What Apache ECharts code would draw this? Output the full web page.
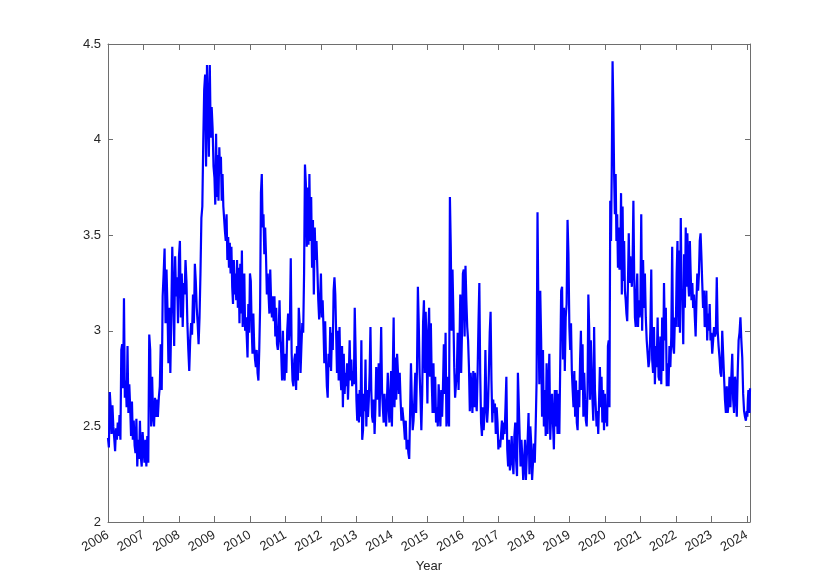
<!DOCTYPE html>
<html>
<head>
<meta charset="utf-8">
<script src="https://cdn.jsdelivr.net/npm/echarts@6/dist/echarts.min.js"></script>
<style>
html,body{margin:0;padding:0;background:#fff;}
#chart{width:830px;height:587px;}
</style>
</head>
<body>
<div id="chart"></div>
<script>
// Values (log scale level), one array per year
const v2006 = [2.44, 2.39, 2.68, 2.60, 2.46, 2.61, 2.50, 2.44, 2.37, 2.49, 2.43, 2.52, 2.45, 2.56, 2.43, 2.90, 2.93, 2.70, 3.17, 2.65, 2.74, 2.60, 2.92, 2.57, 2.72, 2.60, 2.45, 2.63, 2.43, 2.53, 2.40, 2.36, 2.54, 2.29, 2.43, 2.33, 2.53, 2.34, 2.29, 2.47];
const v2007 = [2.47, 2.31, 2.43, 2.29, 2.45, 2.31, 2.98, 2.90, 2.50, 2.76, 2.55, 2.50, 2.65, 2.55, 2.64, 2.55, 2.65, 2.71, 2.93, 2.69, 3.18, 3.30, 3.43, 3.04, 3.32, 3.12, 2.83, 3.12, 2.78, 3.09, 3.44, 3.18, 2.92, 3.39, 3.18, 3.28, 3.04];
const v2008 = [3.39, 3.47, 3.07, 3.30, 3.02, 3.25, 3.19, 3.37, 3.26, 3.04, 2.90, 2.79, 2.95, 3.04, 2.98, 3.19, 3.04, 3.35, 3.26, 3.12, 3.04, 2.93, 3.07, 3.30, 3.59, 3.65, 3.99, 4.26, 4.34, 3.86, 4.39, 4.17, 3.91, 4.39, 4.01, 4.17, 4.06, 3.86];
const v2009 = [3.80, 3.66, 4.03, 3.70, 3.92, 3.68, 3.96, 3.82, 3.91, 3.68, 3.82, 3.65, 3.66, 3.52, 3.47, 3.61, 3.37, 3.49, 3.33, 3.46, 3.30, 3.44, 3.23, 3.14, 3.37, 3.19, 3.30, 3.16, 3.37, 3.12, 3.33, 3.04, 3.35, 3.09, 3.42, 3.02, 3.14, 3.30, 3.00, 3.07, 2.97, 2.86, 3.14, 2.99];
const v2010 = [3.30, 3.26, 3.02, 2.88, 3.09, 2.92, 2.85, 2.81, 2.90, 2.78, 2.74, 2.90, 3.12, 3.72, 3.82, 3.54, 3.61, 3.40, 3.54, 3.39, 3.19, 3.30, 3.19, 3.09, 3.32, 3.16, 3.07, 3.18, 3.05, 3.18, 2.97, 3.12, 2.93, 2.90, 3.00, 3.16, 2.95, 2.88, 2.74, 3.00, 2.78, 2.74];
const v2011 = [2.88, 2.78, 3.00, 3.09, 2.95, 3.04, 3.38, 2.88, 2.74, 2.71, 2.85, 2.88, 2.69, 2.92, 2.74, 3.12, 3.04, 2.78, 2.92, 3.04, 2.99, 3.30, 3.87, 3.77, 3.44, 3.75, 3.45, 3.82, 3.47, 3.70, 3.33, 3.58, 3.19, 3.54, 3.37, 3.47, 3.32, 3.16, 3.06, 3.16];
const v2012 = [3.30, 3.07, 3.16, 3.02, 2.83, 3.05, 2.85, 2.71, 2.65, 2.88, 2.81, 3.02, 2.79, 2.99, 2.90, 3.21, 3.28, 3.19, 2.99, 2.78, 3.00, 2.74, 3.02, 2.78, 2.69, 2.92, 2.60, 2.88, 2.67, 2.78, 2.71, 2.83, 2.64, 2.78, 2.95, 2.74, 2.85, 2.71, 2.79, 2.72, 3.12, 2.90];
const v2013 = [2.64, 2.53, 2.67, 2.52, 2.69, 2.55, 2.95, 2.43, 2.48, 2.67, 2.58, 2.85, 2.50, 2.69, 2.55, 2.64, 2.78, 3.02, 2.69, 2.55, 2.52, 2.64, 2.46, 2.60, 2.81, 2.64, 2.69, 2.83, 2.55, 2.78, 3.02, 2.69, 2.60, 2.52, 2.67, 2.57, 2.50, 2.64, 2.78, 2.60, 2.52, 2.67, 2.79];
const v2014 = [2.50, 2.78, 3.07, 2.60, 2.86, 2.64, 2.88, 2.78, 2.67, 2.78, 2.64, 2.53, 2.60, 2.55, 2.50, 2.43, 2.53, 2.38, 2.43, 2.36, 2.33, 2.57, 2.83, 2.64, 2.48, 2.53, 2.65, 2.78, 2.57, 2.81, 3.23, 3.04, 2.78, 2.65, 2.48, 2.67, 3.04, 3.16, 2.78, 3.10, 2.92];
const v2015 = [2.62, 2.99, 3.12, 2.76, 3.04, 2.74, 2.57, 2.83, 2.57, 2.76, 2.52, 2.60, 2.50, 2.72, 2.60, 2.50, 2.69, 2.55, 2.71, 2.93, 2.67, 2.99, 2.50, 2.55, 2.76, 2.50, 3.70, 3.44, 3.00, 3.32, 3.09, 2.81, 2.65, 2.72, 2.78, 2.99, 2.69, 2.92, 3.19, 2.78, 3.00];
const v2016 = [3.30, 3.32, 2.97, 3.34, 3.16, 3.02, 2.95, 2.81, 2.58, 2.78, 2.67, 2.57, 2.79, 2.60, 2.78, 2.64, 2.58, 2.78, 3.04, 3.25, 2.78, 2.52, 2.45, 2.60, 2.48, 2.57, 2.90, 2.64, 2.52, 2.60, 2.78, 2.99, 3.10, 2.74, 2.52, 2.64, 2.57, 2.62, 2.46, 2.60, 2.52];
const v2017 = [2.38, 2.43, 2.39, 2.46, 2.53, 2.43, 2.52, 2.46, 2.60, 2.76, 2.38, 2.29, 2.43, 2.27, 2.32, 2.45, 2.31, 2.25, 2.45, 2.52, 2.32, 2.24, 2.78, 2.78, 2.45, 2.29, 2.43, 2.34, 2.22, 2.31, 2.43, 2.22, 2.34, 2.43, 2.57, 2.25, 2.50, 2.41, 2.22, 2.31];
const v2018 = [2.41, 2.31, 2.50, 2.74, 3.62, 3.09, 2.72, 3.21, 2.95, 2.55, 2.90, 2.50, 2.69, 2.45, 2.83, 2.46, 2.69, 2.88, 2.43, 2.57, 2.67, 2.52, 2.38, 2.69, 2.50, 2.69, 2.46, 2.67, 2.46, 2.45, 3.21, 3.23, 2.85, 3.12, 2.79, 3.07, 3.14, 3.58, 3.40];
const v2019 = [3.02, 2.90, 3.04, 2.79, 2.69, 2.60, 2.79, 2.55, 2.74, 2.52, 2.48, 2.69, 2.60, 2.85, 3.00, 2.69, 2.93, 2.55, 2.78, 2.64, 2.53, 2.50, 2.69, 3.19, 3.02, 2.64, 2.95, 2.78, 2.64, 2.53, 3.02, 2.69, 2.60, 2.50, 2.58, 2.46, 2.45, 2.81, 2.60, 2.76, 2.52, 2.69, 2.48];
const v2020 = [2.67, 2.52, 2.60, 2.50, 2.92, 2.95, 2.60, 3.68, 3.47, 3.86, 4.41, 4.17, 3.82, 3.61, 3.82, 3.47, 3.61, 3.33, 3.54, 3.32, 3.37, 3.72, 3.19, 3.65, 3.26, 3.47, 3.21, 3.16, 3.09, 3.05, 3.26, 3.51, 3.25, 3.39, 3.30, 3.23, 3.37, 3.68, 3.30, 3.07, 3.02, 3.19, 3.30, 3.02, 3.16, 3.07];
const v2021 = [3.11, 3.61, 3.00, 3.37, 3.12, 3.30, 3.07, 2.95, 2.88, 2.81, 2.85, 3.00, 3.32, 2.85, 2.78, 3.02, 2.72, 2.92, 2.81, 3.07, 2.76, 2.74, 2.97, 2.72, 3.07, 2.79, 3.25, 2.95, 3.12, 2.71, 2.83, 2.71, 2.92, 2.81, 2.97, 3.44, 2.92, 2.88, 3.07];
const v2022 = [3.02, 3.30, 3.47, 3.02, 3.42, 2.99, 3.59, 3.19, 3.16, 2.93, 3.40, 3.12, 3.54, 3.23, 3.51, 3.26, 3.18, 3.47, 3.30, 3.16, 3.25, 3.12, 3.19, 3.07, 2.97, 3.16, 3.30, 3.21, 3.30, 3.47, 3.51, 3.39, 3.25, 3.12, 3.21, 3.02, 3.04, 3.21, 2.95, 3.09, 3.00, 3.14, 2.95];
const v2023 = [2.99, 2.88, 2.95, 3.02, 2.97, 2.99, 3.28, 3.00, 2.92, 2.86, 2.78, 2.76, 3.00, 2.99, 2.76, 2.64, 2.57, 2.71, 2.57, 2.62, 2.76, 2.60, 2.76, 2.88, 2.64, 2.57, 2.76, 2.71, 2.55, 2.78, 2.95, 2.99, 3.07, 2.95, 2.86, 2.67, 2.58, 2.55, 2.53];
const v2024 = [2.58, 2.55, 2.64, 2.69, 2.60, 2.57, 2.70];

const years = [2006, 2007, 2008, 2009, 2010, 2011, 2012, 2013, 2014, 2015, 2016, 2017, 2018, 2019, 2020, 2021, 2022, 2023, 2024];
const yearValues = [v2006, v2007, v2008, v2009, v2010, v2011, v2012, v2013, v2014, v2015, v2016, v2017, v2018, v2019, v2020, v2021, v2022, v2023, v2024];
const xStart = 2006;
const xEnd = 2024.09;   // last observation
const yTicks = [2, 2.5, 3, 3.5, 4, 4.5];

// place each year's observations evenly across that year (time axis)
const series = [];
years.forEach((y, k) => {
  const vals = yearValues[k];
  const end = k < years.length - 1 ? years[k + 1] : xEnd;
  const n = k < years.length - 1 ? vals.length : vals.length - 1;
  vals.forEach((v, i) => series.push([y + i * (end - y) / n, v]));
});

const FONT = '"Liberation Sans", Arial, Helvetica, sans-serif';
const AXIS = '#6e6e6e';
const TXT = '#262626';

const chart = echarts.init(document.getElementById('chart'), null, {renderer: 'canvas'});
const xCommon = {
  type: 'value', min: xStart, max: xEnd, interval: 1,
  splitLine: {show: false},
  axisLine: {show: true, onZero: false, lineStyle: {color: AXIS, width: 1}},
  axisTick: {show: true, inside: true, length: 6, lineStyle: {color: AXIS, width: 1}}
};
const yCommon = {
  type: 'value', min: yTicks[0], max: yTicks[yTicks.length - 1], interval: 0.5,
  splitLine: {show: false},
  axisLine: {show: true, onZero: false, lineStyle: {color: AXIS, width: 1}},
  axisTick: {show: true, inside: true, length: 5, lineStyle: {color: AXIS, width: 1}}
};
chart.setOption({
  animation: false,
  backgroundColor: '#ffffff',
  grid: {left: 108, top: 44, right: 80, bottom: 65, containLabel: false, outerBoundsMode: 'none'},
  xAxis: [
    Object.assign({}, xCommon, {
      position: 'bottom',
      name: 'Year', nameLocation: 'middle', nameGap: 38, nameMoveOverlap: false,
      nameTextStyle: {color: TXT, fontSize: 13, fontFamily: FONT},
      axisLabel: {
        show: true, rotate: 30, margin: 12, color: TXT, fontSize: 13, fontFamily: FONT,
        showMaxLabel: false,
        formatter: v => (Math.abs(v - Math.round(v)) < 1e-6 ? String(Math.round(v)) : '')
      }
    }),
    Object.assign({}, xCommon, {position: 'top', axisLabel: {show: false}})
  ],
  yAxis: [
    Object.assign({}, yCommon, {
      position: 'left',
      axisLabel: {show: true, margin: 7, color: TXT, fontSize: 13, fontFamily: FONT}
    }),
    Object.assign({}, yCommon, {position: 'right', axisLabel: {show: false}})
  ],
  series: [{
    type: 'line',
    data: series,
    showSymbol: false,
    symbol: 'none',
    lineStyle: {color: '#0000ff', width: 2.2},
    xAxisIndex: 0, yAxisIndex: 0,
    clip: true
  }]
});
</script>
</body>
</html>
